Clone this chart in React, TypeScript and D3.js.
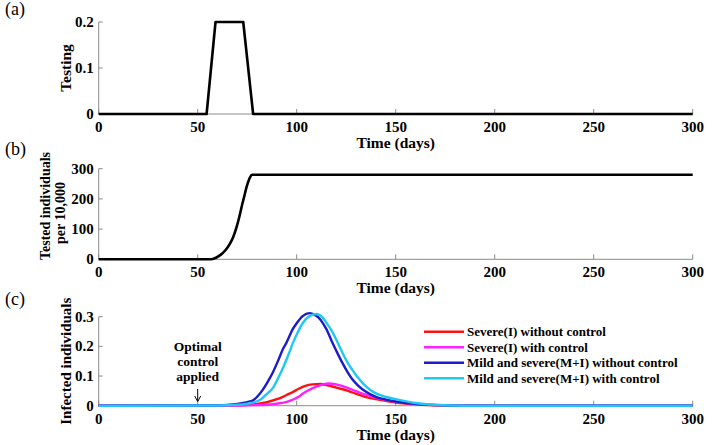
import React from "react";
import * as d3 from "d3";

// ---------- data ----------
const xTicks = [0, 50, 100, 150, 200, 250, 300];

const testingDays = [0, 54.5, 59, 73, 78, 300];
const testingVals = [0, 0, 0.2, 0.2, 0, 0];
const testingTicks = [0, 0.1, 0.2];

const testedDays = [0, 56, 58, 61, 64, 66.3, 68, 69.7, 71, 72.2, 73.5, 74.7, 76, 77, 77.6, 300];
const testedVals = [0, 0, 2, 12, 30, 52, 75, 108, 140, 174, 208, 240, 265, 278, 280, 280];
const testedTicks = [0, 100, 200, 300];

const infTicks = [0, 0.1, 0.2, 0.3];

const mildNoDays = [0, 60, 70, 75, 78, 80, 83, 86, 88, 91, 93, 95, 98, 100, 103, 106.5, 109, 112, 115, 118, 120, 123, 126, 128, 131, 135, 140, 143, 150, 160, 170, 185, 300];
const mildNoVals = [0, 0.001, 0.006, 0.012, 0.018, 0.03, 0.055, 0.088, 0.113, 0.158, 0.19, 0.215, 0.258, 0.278, 0.302, 0.312, 0.307, 0.29, 0.258, 0.213, 0.185, 0.145, 0.11, 0.09, 0.068, 0.047, 0.03, 0.024, 0.014, 0.006, 0.002, 0, 0];

const mildCtrlDays = [0, 60, 70, 75, 80, 82, 85, 88, 90, 93, 96, 98, 100, 103, 106, 110, 113, 116, 118, 120, 123, 126, 128, 131, 135, 139, 143, 150, 160, 170, 185, 300];
const mildCtrlVals = [0, 0.0005, 0.003, 0.007, 0.015, 0.022, 0.04, 0.06, 0.085, 0.126, 0.175, 0.21, 0.24, 0.278, 0.3, 0.309, 0.298, 0.27, 0.249, 0.222, 0.18, 0.142, 0.122, 0.094, 0.065, 0.045, 0.034, 0.022, 0.009, 0.003, 0, 0];

const sevNoDays = [0, 60, 70, 80, 85, 90, 93, 96, 98, 101, 104, 108, 112, 116, 120, 126, 130, 134.5, 143, 150, 160, 175, 190, 300];
const sevNoVals = [0, 0, 0.001, 0.006, 0.012, 0.022, 0.03, 0.04, 0.046, 0.057, 0.066, 0.072, 0.073, 0.068, 0.061, 0.05, 0.04, 0.03, 0.019, 0.011, 0.005, 0.001, 0, 0];

const sevCtrlDays = [0, 60, 70, 80, 88, 92, 95, 98, 101, 103, 106, 110, 113, 116, 120, 126, 130, 134.5, 143, 150, 160, 175, 190, 300];
const sevCtrlVals = [0, 0, 0.0005, 0.002, 0.005, 0.009, 0.013, 0.02, 0.03, 0.04, 0.052, 0.064, 0.071, 0.075, 0.072, 0.059, 0.049, 0.038, 0.022, 0.013, 0.006, 0.001, 0, 0];

const legendLabels = [
  "Severe(I) without control",
  "Severe(I) with control",
  "Mild and severe(M+I) without control",
  "Mild and severe(M+I) with control",
];
const legendColors = ["#ff1010", "#ff20ff", "#1c1cc8", "#1ec8f5"];

// ---------- layout ----------
const W = 714;
const H = 445;
const X0 = 98.7;
const X1 = 692.7;
const FONT = "'Liberation Serif', 'Times New Roman', serif";
const AXIS = "#8a8a8a";

const x = d3.scaleLinear().domain([0, 300]).range([X0, X1]);

type PanelProps = {
  top: number;
  bottom: number;
  domain: [number, number];
  ticks: number[];
  fmt: (v: number) => string;
  children: (y: d3.ScaleLinear<number, number>) => React.ReactNode;
};

function Panel({ top, bottom, domain, ticks, fmt, children }: PanelProps) {
  const y = d3.scaleLinear().domain(domain).range([bottom, top]);
  return (
    <g>
      <line x1={X0} x2={X1} y1={bottom} y2={bottom} stroke={AXIS} strokeWidth={1} />
      <line x1={X0} x2={X0} y1={bottom} y2={top} stroke={AXIS} strokeWidth={1} />
      {xTicks.map((t) => (
        <g key={"x" + t}>
          <line x1={x(t)} x2={x(t)} y1={bottom} y2={bottom - 5} stroke={AXIS} strokeWidth={1} />
          <text x={x(t)} y={bottom + 18} textAnchor="middle" fontSize={15} fontWeight="bold" fontFamily={FONT}>
            {t}
          </text>
        </g>
      ))}
      {ticks.map((t) => (
        <g key={"y" + t}>
          <line x1={X0} x2={X0 + 4} y1={y(t)} y2={y(t)} stroke={AXIS} strokeWidth={1} />
          <text x={X0 - 5} y={y(t) + 5} textAnchor="end" fontSize={15} fontWeight="bold" fontFamily={FONT}>
            {fmt(t)}
          </text>
        </g>
      ))}
      <text x={x(150)} y={bottom + 34} textAnchor="middle" fontSize={15.5} fontWeight="bold" fontFamily={FONT}>
        Time (days)
      </text>
      {children(y)}
    </g>
  );
}

function makePath(
  days: number[],
  vals: number[],
  y: d3.ScaleLinear<number, number>,
  curve: d3.CurveFactory
) {
  const pts: [number, number][] = days.map((d, i) => [d, vals[i]]);
  return d3
    .line<[number, number]>()
    .x((p) => x(p[0]))
    .y((p) => y(p[1]))
    .curve(curve)(pts) as string;
}

export default function App() {
  const aTop = 22, aBot = 114;
  const bTop = 168.7, bBot = 259.3;
  const cTop = 316.7, cBot = 405.7;
  const series = [
    { d: sevNoDays, v: sevNoVals },
    { d: sevCtrlDays, v: sevCtrlVals },
    { d: mildNoDays, v: mildNoVals },
    { d: mildCtrlDays, v: mildCtrlVals },
  ];
  return (
    <svg width={W} height={H} style={{ position: "absolute", left: 0, top: 0, background: "#fff" }}>
      <rect width={W} height={H} fill="#fff" />
      <text x={5} y={15} fontSize={18} fontFamily={FONT}>(a)</text>
      <text x={5} y={155} fontSize={18} fontFamily={FONT}>(b)</text>
      <text x={5} y={305} fontSize={18} fontFamily={FONT}>(c)</text>

      {/* (a) */}
      <Panel top={aTop} bottom={aBot} domain={[0, 0.2]} ticks={testingTicks} fmt={(v) => (v === 0 ? "0" : v.toFixed(1))}>
        {(y) => (
          <path d={makePath(testingDays, testingVals, y, d3.curveLinear)} fill="none" stroke="#000" strokeWidth={2.6} strokeLinejoin="round" />
        )}
      </Panel>
      <text transform={`translate(71,${(aTop + aBot) / 2}) rotate(-90)`} textAnchor="middle" fontSize={15.5} fontWeight="bold" fontFamily={FONT}>
        Testing
      </text>

      {/* (b) */}
      <Panel top={bTop} bottom={bBot} domain={[0, 300]} ticks={testedTicks} fmt={(v) => String(v)}>
        {(y) => (
          <path d={makePath(testedDays, testedVals, y, d3.curveMonotoneX)} fill="none" stroke="#000" strokeWidth={2.6} strokeLinejoin="round" />
        )}
      </Panel>
      <text transform={`translate(50,${206}) rotate(-90)`} textAnchor="middle" fontSize={14} fontWeight="bold" fontFamily={FONT}>
        Tested individuals
      </text>
      <text transform={`translate(65,${213}) rotate(-90)`} textAnchor="middle" fontSize={14} fontWeight="bold" fontFamily={FONT}>
        per 10,000
      </text>

      {/* (c) */}
      <Panel top={cTop} bottom={cBot} domain={[0, 0.3]} ticks={infTicks} fmt={(v) => (v === 0 ? "0" : v.toFixed(1))}>
        {(y) => (
          <g>
            {series.map((s, i) => (
              <path key={i} d={makePath(s.d, s.v, y, d3.curveMonotoneX)} fill="none" stroke={legendColors[i]} strokeWidth={2.4} />
            ))}
          </g>
        )}
      </Panel>
      <text transform={`translate(71,${(cTop + cBot) / 2}) rotate(-90)`} textAnchor="middle" fontSize={15} fontWeight="bold" fontFamily={FONT}>
        Infected individuals
      </text>

      {/* annotation */}
      <g fontSize={13.5} fontWeight="bold" fontFamily={FONT} textAnchor="middle">
        <text x={x(50)} y={351}>Optimal</text>
        <text x={x(50)} y={366}>control</text>
        <text x={x(50)} y={381}>applied</text>
      </g>
      <line x1={x(50)} x2={x(50)} y1={389} y2={401} stroke="#000" strokeWidth={1} />
      <path d={`M${x(50) - 3},${396} L${x(50)},${401.5} L${x(50) + 3},${396}`} fill="none" stroke="#000" strokeWidth={1} />

      {/* legend */}
      {legendLabels.map((lab, i) => (
        <g key={lab}>
          <line x1={424} x2={464} y1={331.7 + i * 15.5} y2={331.7 + i * 15.5} stroke={legendColors[i]} strokeWidth={2.4} />
          <text x={467} y={331.7 + i * 15.5 + 4.5} fontSize={13} fontWeight="bold" fontFamily={FONT}>
            {lab}
          </text>
        </g>
      ))}
    </svg>
  );
}
